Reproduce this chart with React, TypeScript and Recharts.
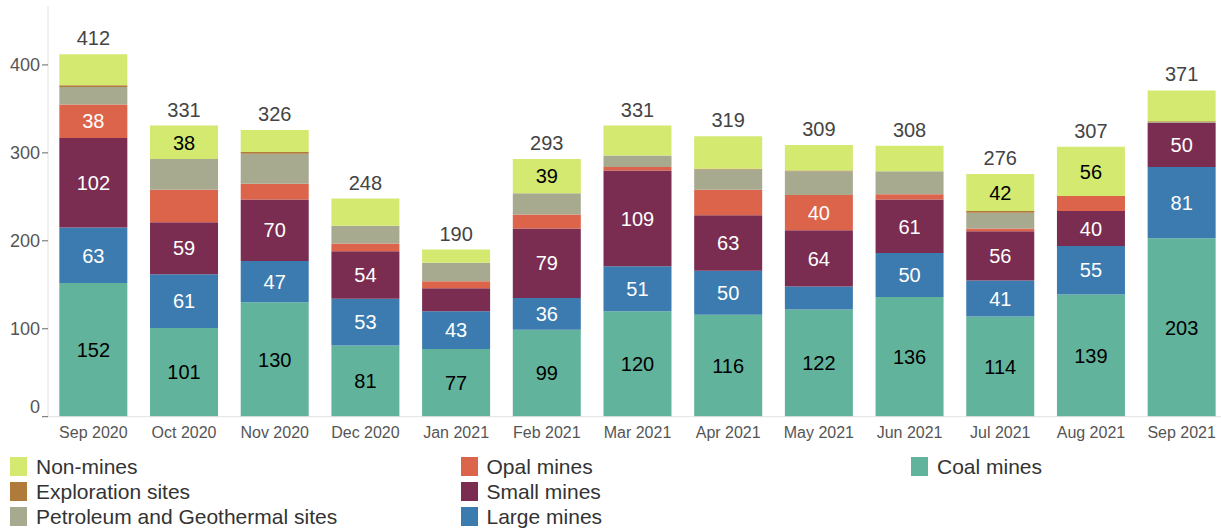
import React from 'react';
import { BarChart, Bar, XAxis, YAxis, LabelList } from 'recharts';

const months = ['Sep 2020', 'Oct 2020', 'Nov 2020', 'Dec 2020', 'Jan 2021', 'Feb 2021', 'Mar 2021', 'Apr 2021', 'May 2021', 'Jun 2021', 'Jul 2021', 'Aug 2021', 'Sep 2021'];
const coalMines = [152, 101, 130, 81, 77, 99, 120, 116, 122, 136, 114, 139, 203];
const largeMines = [63, 61, 47, 53, 43, 36, 51, 50, 26, 50, 41, 55, 81];
const smallMines = [102, 59, 70, 54, 26, 79, 109, 63, 64, 61, 56, 40, 50];
const opalMines = [38, 37, 18, 9, 8, 16, 4, 29, 40, 6, 3, 17, 0];
const petroleumSites = [20, 35, 34, 20, 21, 24, 13, 23, 27, 26, 18, 0, 1];
const explorationSites = [2, 0, 2, 0, 0, 0, 0, 1, 1, 0, 2, 0, 1];
const nonMines = [35, 38, 25, 31, 15, 39, 34, 37, 29, 29, 42, 56, 35];
const yTicks = [0, 100, 200, 300, 400];

// stack order, bottom first; minLabel = smallest value that gets an inside label
const series = [
  { key: 'coal', name: 'Coal mines', values: coalMines, color: '#62b39b', label: '#000', minLabel: 36 },
  { key: 'large', name: 'Large mines', values: largeMines, color: '#3c7baf', label: '#fff', minLabel: 36 },
  { key: 'small', name: 'Small mines', values: smallMines, color: '#7a2d50', label: '#fff', minLabel: 36 },
  { key: 'opal', name: 'Opal mines', values: opalMines, color: '#dc644a', label: '#fff', minLabel: 38 },
  { key: 'petroleum', name: 'Petroleum and Geothermal sites', values: petroleumSites, color: '#a8aa90', label: '#fff', minLabel: 38 },
  { key: 'exploration', name: 'Exploration sites', values: explorationSites, color: '#b07a3b', label: '#fff', minLabel: 38 },
  { key: 'nonmines', name: 'Non-mines', values: nonMines, color: '#d3e970', label: '#000', minLabel: 38 },
];

const data = months.map((m, i) => {
  const row: any = { month: m, total: 0 };
  series.forEach((s) => {
    row[s.key] = s.values[i];
    row.total += s.values[i];
  });
  return row;
});

const FONT = "'Liberation Sans', Arial, sans-serif";

const YTick = (props: any) => {
  const { x, y, payload } = props;
  return (
    <text x={x} y={payload.value === 0 ? y - 10 : y} dy="0.355em" textAnchor="end" fill="#555" fontSize={18} fontFamily={FONT}>
      {payload.value}
    </text>
  );
};

const segmentLabel = (color: string, min: number) => (props: any) => {
  const { x, y, width, height, value } = props;
  if (value < min) return null;
  return (
    <text x={x + width / 2} y={y + height / 2} dy="0.36em" textAnchor="middle" fill={color} fontSize={20} fontFamily={FONT}>
      {value}
    </text>
  );
};

const totalLabel = (props: any) => {
  const { x, y, width, value } = props;
  return (
    <text x={x + width / 2} y={y - 9} textAnchor="middle" fill="#444" fontSize={20} fontFamily={FONT}>
      {value}
    </text>
  );
};

const legendItems = [...series].reverse();

export default function App() {
  return (
    <div style={{ position: 'absolute', left: 0, top: 0, width: 1221, height: 531, overflow: 'hidden', background: '#fff', fontFamily: FONT }}>
      <BarChart
        width={1230}
        height={450}
        data={data}
        margin={{ top: 6, right: 3, left: 0, bottom: 0 }}
        barCategoryGap="12.5%"
      >
        <XAxis
          dataKey="month"
          axisLine={{ stroke: '#e2e2e2' }}
          tickLine={false}
          tickMargin={4}
          height={33.3}
          interval={0}
          tick={{ fill: '#555', fontSize: 16, fontFamily: FONT }}
        />
        <YAxis
          width={48}
          domain={[0, 467]}
          ticks={yTicks}
          axisLine={{ stroke: '#e2e2e2' }}
          tickLine={{ stroke: '#666' }}
          tick={<YTick />}
        />
        {series.map((s, idx) => (
          <Bar key={s.key} dataKey={s.key} name={s.name} stackId="a" fill={s.color} isAnimationActive={false}>
            <LabelList dataKey={s.key} content={segmentLabel(s.label, s.minLabel)} />
            {idx === series.length - 1 && <LabelList dataKey="total" content={totalLabel} />}
          </Bar>
        ))}
      </BarChart>
      {legendItems.map((s, i) => (
        <div
          key={s.key}
          style={{
            position: 'absolute',
            left: 10 + Math.floor(i / 3) * 450.5,
            top: 457 + (i % 3) * 25,
            height: 19,
            display: 'flex',
            alignItems: 'center',
            whiteSpace: 'nowrap',
          }}
        >
          <span style={{ display: 'inline-block', width: 17, height: 19, background: s.color, marginRight: 9 }} />
          <span style={{ fontSize: 21, color: '#333', lineHeight: '19px' }}>{s.name}</span>
        </div>
      ))}
    </div>
  );
}
